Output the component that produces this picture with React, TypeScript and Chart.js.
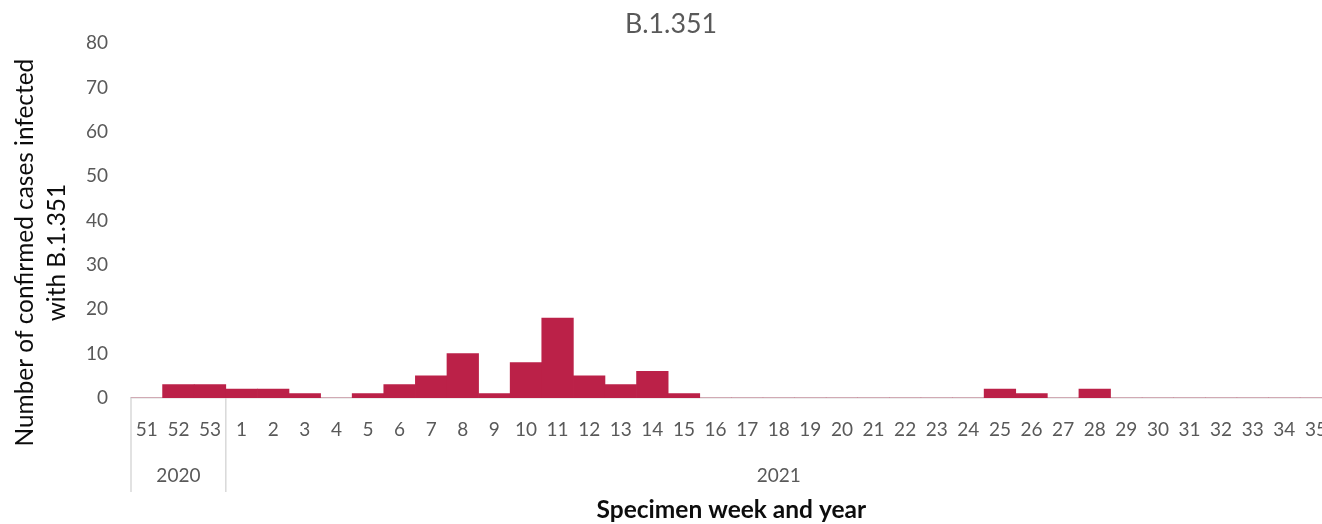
import { useEffect, useRef } from "react";
import { Chart, registerables } from "chart.js";

Chart.register(...registerables);

// Specimen weeks, split by year
const weeks2020 = ["51", "52", "53"];
const weeks2021 = [
  "1", "2", "3", "4", "5", "6", "7", "8", "9", "10", "11", "12", "13", "14", "15",
  "16", "17", "18", "19", "20", "21", "22", "23", "24", "25", "26", "27", "28",
  "29", "30", "31", "32", "33", "34", "35",
];
const yearLabels = ["2020", "2021"];

// Confirmed B.1.351 cases per specimen week
const cases2020 = [0, 3, 3];
const cases2021 = [
  2, 2, 1, 0, 1, 3, 5, 10, 1, 8, 18, 5, 3, 6, 1,
  0, 0, 0, 0, 0, 0, 0, 0, 0,
  2, 1, 0, 2,
  0, 0, 0, 0, 0, 0, 0,
];

const yTicks = [0, 10, 20, 30, 40, 50, 60, 70, 80];

const weekLabels = [...weeks2020, ...weeks2021];
const caseValues = [...cases2020, ...cases2021];
const groupSizes = [weeks2020.length, weeks2021.length];

const FONT = 'Lato, "Liberation Sans", sans-serif';
const GREY_TEXT = "#595959";
const AXIS_LINE = "#D9D9D9";
const TITLE_TEXT = "#0d0d0d";

// Year row under the week labels, with separators between the year groups
const yearGroupPlugin = {
  id: "yearGroups",
  afterDraw(chart: any) {
    const x = chart.scales.x;
    const area = chart.chartArea;
    const ctx = chart.ctx;
    const step = x.getPixelForValue(1) - x.getPixelForValue(0);
    ctx.save();
    ctx.strokeStyle = AXIS_LINE;
    ctx.lineWidth = 1.5;
    let start = 0;
    const edges: number[] = [x.getPixelForValue(0) - step / 2];
    groupSizes.forEach((size, g) => {
      const end = start + size - 1;
      const left = x.getPixelForValue(start) - step / 2;
      const right = x.getPixelForValue(end) + step / 2;
      edges.push(right);
      ctx.fillStyle = GREY_TEXT;
      ctx.font = `19px ${FONT}`;
      ctx.textAlign = "center";
      ctx.textBaseline = "middle";
      ctx.fillText(yearLabels[g], (left + right) / 2, area.bottom + 78);
      start = end + 1;
    });
    edges.forEach((px) => {
      ctx.beginPath();
      ctx.moveTo(px, area.bottom);
      ctx.lineTo(px, area.bottom + 94);
      ctx.stroke();
    });
    ctx.restore();
  },
};

// Two-line vertical axis title
const yTitlePlugin = {
  id: "yTitle",
  afterDraw(chart: any) {
    const area = chart.chartArea;
    const ctx = chart.ctx;
    const cy = (area.top + area.bottom) / 2 + 32;
    ctx.save();
    ctx.fillStyle = TITLE_TEXT;
    ctx.font = `24.4px ${FONT}`;
    ctx.textAlign = "center";
    ctx.textBaseline = "alphabetic";
    const lines = ["Number of confirmed cases infected", "with B.1.351"];
    const baselines = [33, 65];
    lines.forEach((line, i) => {
      ctx.save();
      ctx.translate(baselines[i], cy);
      ctx.rotate(-Math.PI / 2);
      ctx.fillText(line, 0, 0);
      ctx.restore();
    });
    ctx.restore();
  },
};

export default function App() {
  const canvasRef = useRef<HTMLCanvasElement | null>(null);

  useEffect(() => {
    const canvas = canvasRef.current;
    if (!canvas) return;
    const chart = new Chart(canvas, {
      type: "bar",
      data: {
        labels: weekLabels,
        datasets: [
          {
            label: "B.1.351",
            data: caseValues,
            backgroundColor: "#BB2148",
            borderWidth: 0,
            barPercentage: 1,
            categoryPercentage: 1,
          },
        ],
      },
      options: {
        responsive: false,
        animation: false,
        layout: { padding: { left: 0, right: 5, top: 0, bottom: 0 } },
        plugins: {
          legend: { display: false },
          tooltip: { enabled: false },
          title: {
            display: true,
            text: "B.1.351",
            color: GREY_TEXT,
            font: { family: FONT, size: 26.8, weight: "normal" },
            padding: { top: 8, bottom: 3 },
          },
        },
        scales: {
          x: {
            type: "category",
            grid: { display: false, drawTicks: false },
            border: { display: true, color: AXIS_LINE, width: 1.5 },
            ticks: {
              color: GREY_TEXT,
              font: { family: FONT, size: 19 },
              padding: 20,
              autoSkip: false,
              maxRotation: 0,
              minRotation: 0,
            },
            title: {
              display: true,
              text: "Specimen week and year",
              color: TITLE_TEXT,
              font: { family: FONT, size: 24.5, weight: "bold" },
              padding: { top: 0, bottom: -1 },
            },
            afterFit(scale: any) {
              scale.height = 126;
            },
          },
          y: {
            min: 0,
            max: 80,
            grid: { display: false, drawTicks: false },
            border: { display: false },
            afterBuildTicks(scale: any) {
              scale.ticks = yTicks.map((v) => ({ value: v }));
            },
            ticks: {
              color: GREY_TEXT,
              font: { family: FONT, size: 19 },
              padding: 23,
            },
            afterFit(scale: any) {
              scale.width = 131;
            },
          },
        },
      },
      plugins: [yearGroupPlugin, yTitlePlugin],
    });
    return () => chart.destroy();
  }, []);

  return (
    <div
      style={{
        position: "fixed",
        left: 0,
        top: 0,
        width: 1322,
        height: 524,
        overflow: "hidden",
        background: "#ffffff",
      }}
    >
      <canvas ref={canvasRef} width={1347} height={524} style={{ display: "block" }} />
    </div>
  );
}
